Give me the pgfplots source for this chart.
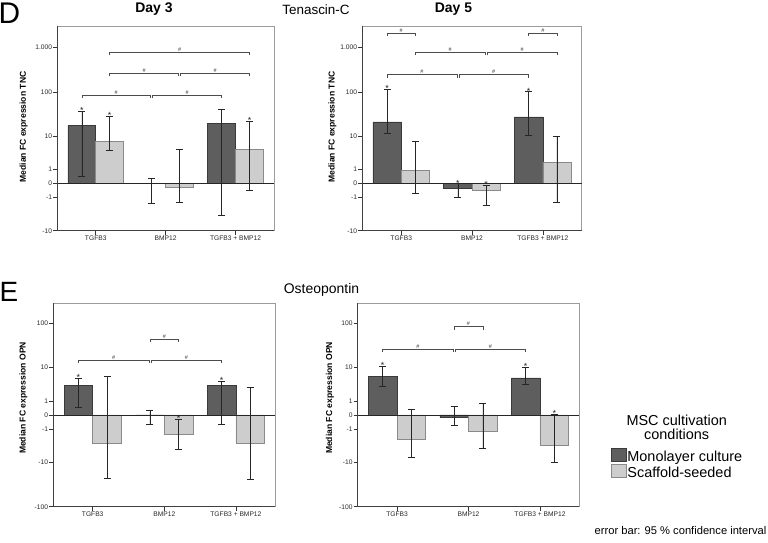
\documentclass[border=0pt]{standalone}
\usepackage{pgfplots}
\pgfplotsset{compat=1.18}
\usepackage{pgfplotstable}
\usepackage{fontspec}
\setmainfont{Liberation Sans}

\definecolor{mono}{HTML}{5E5E5E}
\definecolor{monoedge}{HTML}{3A3A3A}
\definecolor{scaf}{HTML}{CDCDCD}
\definecolor{scafedge}{HTML}{8A8A8A}
\definecolor{frame}{HTML}{9C9C9C}

% the chart's y scale: sign(v)*log10(|v|+1)
\newcommand\tr[1]{(log10(1+abs(#1))*((#1)<0 ? -1 : 1))}

% median FC, lower / upper 95% CI, star flag; m = monolayer, s = scaffold
\pgfplotstableread{
x  m      mlo    mhi    ms  s      slo    shi    ss
0  17.8   0.43   37.8   1   7.4    4.3    28.7   1
1  -0.02  -1.71  0.29   0   -0.22  -1.62  4.67   0
2  19.4   -4.05  41.3   0   4.58   -0.43  22.4   1
}\tncA
\pgfplotstableread{
x  m      mlo    mhi    ms  s      slo    shi    ss
0  21.4   11.6   117    1   0.96   -0.68  7.3    0
1  -0.29  -1.06  -0.02  1   -0.40  -2.08  -0.10  1
2  27.8   10.4   102    1   1.84   -1.61  9.9    0
}\tncB
\pgfplotstableread{
x  m      mlo    mhi    ms  s      slo    shi    ss
0  3.51   0.44   5.4    1   -3.14  -23.4  6.08   0
1  0.01   -0.57  0.285  0   -1.59  -4.69  -0.22  1
2  3.51   -0.57  4.5    1   -3.2   -24.6  3.07   0
}\opnA
\pgfplotstableread{
x  m      mlo    mhi    ms  s      slo    shi    ss
0  6.08   3.14   10.9   1   -2.39  -7.2   0.33   0
1  -0.14  -0.65  0.52   0   -1.27  -4.24  0.82   0
2  5.5    3.73   10.1   1   -3.5   -9.6   0.05   1
}\opnB

\pgfplotsset{
  panel/.style={
    scale only axis, anchor=north west, clip=false,
    xmin=-0.55, xmax=2.55,
    xtick={0,1,2}, xticklabels={TGFB3, BMP12, TGFB3 + BMP12},
    tick align=outside, tick pos=left,
    major tick length=4bp,
    tick style={black!80, line width=0.5bp},
    axis line style={frame, line width=0.6bp},
    tick label style={font=\fontsize{6.7}{7}\selectfont, text=black!85, inner sep=1bp},
  },
  tnc/.style={ymin=-1.0414, ymax=3.45,
    ytick={-1.0414,-0.30103,0,0.30103,1.0414,2.00432,3.00043},
    yticklabels={-10,-1,0,1,10,100,1.000}},
  opn/.style={ymin=-2.00432, ymax=2.44,
    ytick={-2.00432,-1.0414,-0.30103,0,0.30103,1.0414,2.00432},
    yticklabels={-100,-10,-1,0,1,10,100}},
  errs/.style={error bars/.cd, y dir=both, y explicit,
    error bar style={black!85, line width=0.5bp},
    error mark options={rotate=90, black!85, line width=0.5bp, mark size=3.5bp}},
  monobar/.style={ybar, bar width=0.4, bar shift=0, fill=mono, draw=monoedge, line width=0.5bp, errs},
  scafbar/.style={ybar, bar width=0.4, bar shift=0, fill=scaf, draw=scafedge, line width=0.5bp, errs},
  stars/.style={draw=none, mark=none, nodes near coords={*},
    nodes near coords style={anchor=base, yshift=-2.6bp, inner sep=0pt,
      font=\fontsize{9}{9}\selectfont, text=black!85}},
}

% bars, error bars, stars and axis lines for one table
\newcommand\panelplots[1]{%
  \addplot[monobar] table[x expr={\thisrow{x}-0.2}, y expr={\tr{\thisrow{m}}},
    y error plus expr={\tr{\thisrow{mhi}}-\tr{\thisrow{m}}},
    y error minus expr={\tr{\thisrow{m}}-\tr{\thisrow{mlo}}}] {#1};
  \addplot[scafbar] table[x expr={\thisrow{x}+0.2}, y expr={\tr{\thisrow{s}}},
    y error plus expr={\tr{\thisrow{shi}}-\tr{\thisrow{s}}},
    y error minus expr={\tr{\thisrow{s}}-\tr{\thisrow{slo}}}] {#1};
  \addplot[stars, restrict expr to domain={\thisrow{ms}}{0.5:1.5}]
    table[x expr={\thisrow{x}-0.2}, y expr={\tr{\thisrow{mhi}}}] {#1};
  \addplot[stars, restrict expr to domain={\thisrow{ss}}{0.5:1.5}]
    table[x expr={\thisrow{x}+0.2}, y expr={\tr{\thisrow{shi}}}] {#1};
  \draw[black!85, line width=0.6bp] (axis cs:-0.55,0) -- (axis cs:2.55,0);
  \draw[black!75, line width=0.6bp] (rel axis cs:0,1) -- (rel axis cs:0,0) -- (rel axis cs:1,0);
}

% significance bracket: from x1 to x2 at height y (transformed units)
\newcommand\brk[3]{%
  \draw[black!70, line width=0.5bp] ([yshift=-3bp]axis cs:#1,#3) -- (axis cs:#1,#3)
    -- (axis cs:#2,#3) -- ([yshift=-3bp]axis cs:#2,#3);
  \node[font=\fontsize{5.5}{6}\selectfont, anchor=base, inner sep=0pt, text=black!80]
    at ([yshift=0.8bp]axis cs:{(#1+#2)/2},#3) {\#};
}

\begin{document}
\begin{tikzpicture}
\useasboundingbox (0,0) rectangle (768bp,-543bp);

% --- D: Tenascin-C, day 3
\begin{axis}[panel, tnc, at={(57.3bp,-26.3bp)}, width=216.7bp, height=204.4bp]
\panelplots{\tncA}
\brk{-0.2}{0.785}{1.94}
\brk{0.815}{1.8}{1.94}
\brk{0.2}{1.185}{2.42}
\brk{1.215}{2.2}{2.42}
\brk{0.2}{2.2}{2.88}
\end{axis}

% --- D: Tenascin-C, day 5
\begin{axis}[panel, tnc, at={(362.3bp,-26.3bp)}, width=219.4bp, height=204.4bp]
\panelplots{\tncB}
\brk{-0.2}{0.785}{2.39}
\brk{0.815}{1.8}{2.39}
\brk{0.2}{1.185}{2.88}
\brk{1.215}{2.2}{2.88}
\brk{-0.2}{0.2}{3.30}
\brk{1.8}{2.2}{3.30}
\end{axis}

% --- E: Osteopontin, day 3
\begin{axis}[panel, opn, at={(53.3bp,-303.3bp)}, width=222bp, height=203.4bp]
\panelplots{\opnA}
\brk{-0.2}{0.785}{1.205}
\brk{0.815}{1.8}{1.205}
\brk{0.8}{1.2}{1.656}
\end{axis}

% --- E: Osteopontin, day 5
\begin{axis}[panel, opn, at={(357.7bp,-303.3bp)}, width=221.6bp, height=203.4bp]
\panelplots{\opnB}
\brk{-0.2}{0.785}{1.445}
\brk{0.815}{1.8}{1.445}
\brk{0.8}{1.2}{1.93}
\end{axis}

% titles and axis labels
\node[font=\fontsize{30}{30}\selectfont, anchor=base west, inner sep=0pt] at (-1.5bp,-23.3bp) {D};
\node[font=\fontsize{28}{28}\selectfont, anchor=base west, inner sep=0pt] at (-0.5bp,-301.7bp) {E};
\node[font=\bfseries\fontsize{14}{14}\selectfont, anchor=base, inner sep=0pt] at (154bp,-12.3bp) {Day 3};
\node[font=\bfseries\fontsize{14}{14}\selectfont, anchor=base, inner sep=0pt] at (453.5bp,-12.3bp) {Day 5};
\node[font=\fontsize{13.5}{14}\selectfont, anchor=base, inner sep=0pt] at (316bp,-14bp) {Tenascin-C};
\node[font=\fontsize{14}{14}\selectfont, anchor=base, inner sep=0pt] at (321.5bp,-293bp) {Osteopontin};

\node[rotate=90, font=\bfseries\fontsize{8.6}{9}\selectfont] at (23.7bp,-127bp) {Median FC expression TNC};
\node[rotate=90, font=\bfseries\fontsize{8.6}{9}\selectfont] at (332.5bp,-127bp) {Median FC expression TNC};
\node[rotate=90, font=\bfseries\fontsize{8.6}{9}\selectfont] at (23.3bp,-398bp) {Median FC expression OPN};
\node[rotate=90, font=\bfseries\fontsize{8.6}{9}\selectfont] at (330bp,-398bp) {Median FC expression OPN};

% legend
\node[font=\fontsize{14.5}{15}\selectfont, anchor=base, inner sep=0pt] at (676.7bp,-425bp) {MSC cultivation};
\node[font=\fontsize{14.5}{15}\selectfont, anchor=base, inner sep=0pt] at (676.7bp,-439.3bp) {conditions};
\filldraw[fill=mono, draw=monoedge, line width=0.8bp] (611.5bp,-448.2bp) rectangle (626.2bp,-461.2bp);
\filldraw[fill=scaf, draw=scafedge, line width=0.8bp] (611.5bp,-464.2bp) rectangle (626.2bp,-477.7bp);
\node[font=\fontsize{14.5}{15}\selectfont, anchor=base west, inner sep=0pt] at (627.2bp,-461bp) {Monolayer culture};
\node[font=\fontsize{14.5}{15}\selectfont, anchor=base west, inner sep=0pt] at (627.2bp,-477.7bp) {Scaffold-seeded};
\node[font=\fontsize{11.2}{12}\selectfont, anchor=base east, inner sep=0pt] at (766.5bp,-534bp) {error bar: 95 \% confidence interval};
\end{tikzpicture}
\end{document}
